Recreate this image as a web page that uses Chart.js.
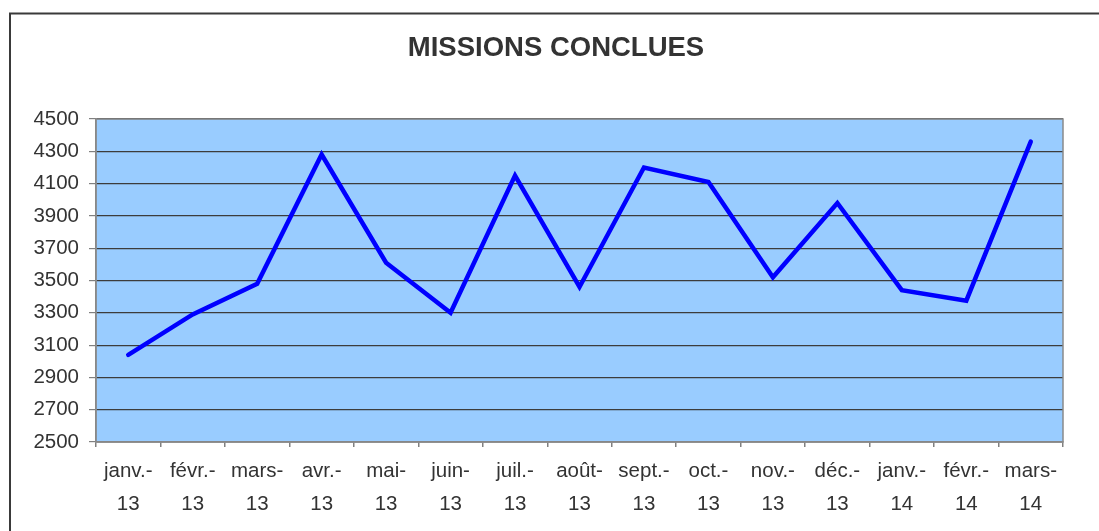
<!DOCTYPE html>
<html>
<head>
<meta charset="utf-8">
<script src="https://cdn.jsdelivr.net/npm/chart.js@4/dist/chart.umd.min.js"></script>
<style>
  body { margin: 0; background: #fff; }
  #wrap { width: 1099px; height: 531px; }
</style>
</head>
<body>
<div id="wrap"><canvas id="graphe" width="1099" height="531"></canvas></div>
<script>
// données
const mois = ['janv.-', 'févr.-', 'mars-', 'avr.-', 'mai-', 'juin-', 'juil.-', 'août-', 'sept.-', 'oct.-', 'nov.-', 'déc.-', 'janv.-', 'févr.-', 'mars-'];
const annees = ['13', '13', '13', '13', '13', '13', '13', '13', '13', '13', '13', '13', '14', '14', '14'];
const missions = [3040, 3290, 3480, 4280, 3610, 3300, 4150, 3460, 4200, 4110, 3520, 3980, 3440, 3375, 4360];
const yMin = 2500, yMax = 4500, yPas = 200;

const etiquettes = mois.map((m, i) => [m, annees[i]]);

// cadre exterieur + fond de la zone de tracé
const fondPlugin = {
  id: 'fond',
  afterLayout(chart) {
    // centrer le titre sur le cadre et pas sur la zone moins la marge
    if (chart.titleBlock) {
      chart.titleBlock.left = 13;
      chart.titleBlock.right = 1099;
    }
  },
  beforeDraw(chart) {
    const c = chart.ctx;
    const a = chart.chartArea;
    c.save();
    c.strokeStyle = '#3a3a3a';
    c.lineWidth = 2;
    c.strokeRect(10, 13.5, 1200, 700);
    c.fillStyle = '#99CCFF';
    c.fillRect(a.left, a.top, a.right - a.left, a.bottom - a.top);
    c.restore();
  },
  beforeDatasetsDraw(chart) {
    const c = chart.ctx;
    const a = chart.chartArea;
    c.save();
    c.strokeStyle = '#8a8a8a';
    c.lineWidth = 1.5;
    c.strokeRect(a.left, a.top, a.right - a.left, a.bottom - a.top);
    c.restore();
  }
};

const police = "'Liberation Sans', Arial, sans-serif";

new Chart(document.getElementById('graphe'), {
  type: 'line',
  data: {
    labels: etiquettes,
    datasets: [{
      label: 'Missions conclues',
      data: missions,
      borderColor: '#0000FF',
      borderWidth: 4.5,
      borderCapStyle: 'round',
      pointRadius: 0,
      tension: 0,
      fill: false
    }]
  },
  options: {
    responsive: false,
    animation: false,
    layout: { padding: { left: 0, right: 36, top: 0, bottom: 0 } },
    plugins: {
      legend: { display: false },
      tooltip: { enabled: false },
      title: {
        display: true,
        text: 'MISSIONS CONCLUES',
        color: '#333333',
        font: { family: police, size: 27.5, weight: 'bold', lineHeight: 1.2 },
        padding: { top: 32, bottom: 54 }
      }
    },
    scales: {
      x: {
        offset: true,
        grid: {
          offset: true,
          drawOnChartArea: false,
          drawTicks: true,
          tickLength: 5,
          tickColor: '#808080',
          lineWidth: 1.5
        },
        border: { color: '#808080', width: 1.5 },
        ticks: {
          color: '#333333',
          font: { family: police, size: 20.5, lineHeight: 1.6 },
          padding: 8,
          maxRotation: 0,
          autoSkip: false
        },
        afterFit(scale) { scale.height = 89; }
      },
      y: {
        min: yMin,
        max: yMax,
        grid: {
          color: '#3c3c3c',
          lineWidth: 1.2,
          tickLength: 7,
          tickColor: '#808080'
        },
        border: { color: '#808080', width: 1.5 },
        ticks: {
          stepSize: yPas,
          color: '#333333',
          font: { family: police, size: 20.5 },
          padding: 10,
          callback: v => String(v)
        },
        afterFit(scale) { scale.width = 96; }
      }
    }
  },
  plugins: [fondPlugin]
});
</script>
</body>
</html>
